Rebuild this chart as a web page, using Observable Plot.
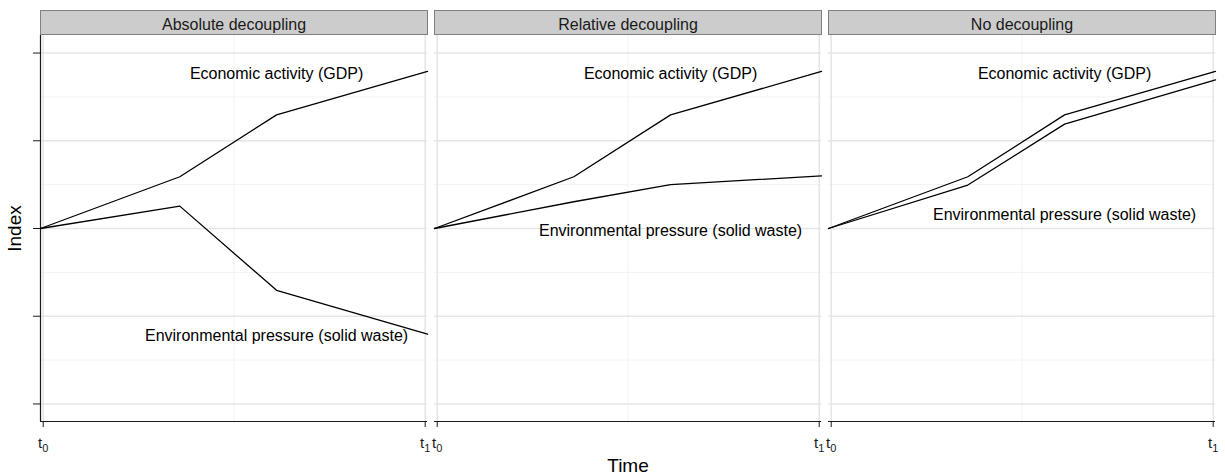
<!DOCTYPE html>
<html><head><meta charset="utf-8">
<script src="https://cdn.jsdelivr.net/npm/d3@7"></script>
<script src="https://cdn.jsdelivr.net/npm/@observablehq/plot@0.6"></script>
<style>
body{margin:0;background:#fff;}
</style></head><body><div id="chart"></div>
<script>
const panels = ["Absolute decoupling", "Relative decoupling", "No decoupling"];
const times = [0, 0.36, 0.61, 1];
const gdpValues = [100, 111.8, 125.9, 135.8];
const wasteAbsolute = [100, 105.1, 85.9, 75.9];
const wasteRelative = [100, 106.1, 110.0, 112.0];
const wasteNone = [100, 109.9, 123.8, 133.9];
const seriesNames = ["Economic activity (GDP)", "Environmental pressure (solid waste)"];
const labelTime = 0.61;
const gdpLabelY = [135.2, 135.2, 135.2];
const wasteLabelY = [75.6, 99.4, 103.2];
const yDomain = [56, 144];
const yTicks = [60, 80, 100, 120, 140];
const yMinorTicks = [70, 90, 110, 130];
const xDomain = [0, 1];
const xTicks = [0.007, 0.994];
const xTickLabels = ["t_0", "t_1"];
const xMinorTicks = [0.5];

const wasteByPanel = [wasteAbsolute, wasteRelative, wasteNone];
const rows = [];
panels.forEach((p, i) => {
  times.forEach((t, j) => {
    rows.push({panel: p, series: seriesNames[0], time: t, value: gdpValues[j]});
    rows.push({panel: p, series: seriesNames[1], time: t, value: wasteByPanel[i][j]});
  });
});
const labels = panels.flatMap((p, i) => [
  {panel: p, text: seriesNames[0], time: labelTime, value: gdpLabelY[i]},
  {panel: p, text: seriesNames[1], time: labelTime, value: wasteLabelY[i]}
]);

const chart = Plot.plot({
  width: 1225, height: 475,
  marginTop: 35, marginBottom: 54, marginLeft: 40, marginRight: 9,
  style: {fontFamily: "Arial, 'Liberation Sans', sans-serif", background: "white", color: "#1a1a1a"},
  fx: {domain: panels, paddingInner: 0.0172, paddingOuter: 0, axis: null, label: null},
  x: {domain: xDomain, axis: null},
  y: {domain: yDomain, axis: null},
  marks: [
    Plot.frame({fill: "#cccccc", stroke: "#808080", insetTop: -25, insetBottom: 387}),
    Plot.text(panels, {fx: d => d, text: d => d, frameAnchor: "top", lineAnchor: "middle", dy: -11, fontSize: 16, fill: "#1a1a1a"}),
    Plot.gridY(yMinorTicks, {stroke: "#f3f3f3", strokeOpacity: 1, strokeWidth: 1}),
    Plot.gridX(xMinorTicks, {stroke: "#f3f3f3", strokeOpacity: 1, strokeWidth: 1}),
    Plot.gridY(yTicks, {stroke: "#e5e5e5", strokeOpacity: 1, strokeWidth: 1.5}),
    Plot.gridX(xTicks, {stroke: "#e5e5e5", strokeOpacity: 1, strokeWidth: 1.5}),
    Plot.ruleY([yDomain[0]], {stroke: "#1a1a1a", strokeWidth: 1.2}),
    Plot.ruleX([xDomain[0]], {fx: () => panels[0], stroke: "#1a1a1a", strokeWidth: 1.2}),
    Plot.axisY({ticks: yTicks, tickSize: 7, tickFormat: () => "", label: null, stroke: "#1a1a1a"}),
    Plot.axisX({ticks: xTicks, tickSize: 6, tickPadding: 10, tickFormat: (d, i) => xTickLabels[i], label: null, fontSize: 15, stroke: "#1a1a1a"}),
    Plot.line(rows, {fx: "panel", x: "time", y: "value", z: "series", stroke: "black", strokeWidth: 1.3}),
    Plot.text(labels, {fx: "panel", x: "time", y: "value", text: "text", fontSize: 16, fill: "black"}),
    Plot.text(["Time"], {facet: "super", text: d => d, frameAnchor: "bottom", textAnchor: "middle", lineAnchor: "middle", dy: 44, fontSize: 19, fill: "black"}),
    Plot.text(["Index"], {facet: "super", text: d => d, frameAnchor: "left", textAnchor: "middle", lineAnchor: "middle", dx: -26, rotate: -90, fontSize: 19, fill: "black"})
  ]
});

d3.select(chart).selectAll('g[aria-label="x-axis tick label"] text').each(function() {
  const parts = this.textContent.split("_");
  if (parts.length !== 2) return;
  const sel = d3.select(this);
  sel.text(null);
  sel.append("tspan").text(parts[0]);
  sel.append("tspan").attr("font-size", "11").attr("dy", "4").text(parts[1]);
});

document.getElementById("chart").appendChild(chart);
</script>
</body></html>
